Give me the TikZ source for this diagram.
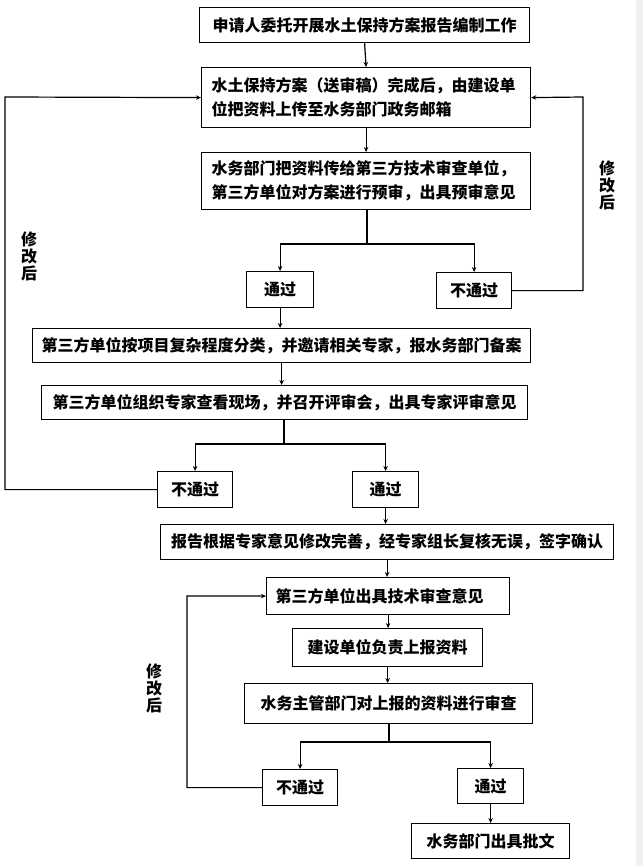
\documentclass[tikz,border=0pt]{standalone}
\usepackage{fontspec}
\newfontfamily\cjk{Noto Sans CJK SC}
\usetikzlibrary{arrows.meta}
\begin{document}
\begin{tikzpicture}[x=1pt,y=1pt,
  box/.style={draw, line width=1.2pt, inner sep=0pt, anchor=north west,
    font=\cjk\bfseries\fontsize{16}{24}\selectfont},
  lbl/.style={align=center, inner sep=0pt, font=\cjk\bfseries\fontsize{16}{17}\selectfont},
  arr/.style={line width=1.2pt, -{Stealth[length=5pt,width=4.5pt]}},
  ln/.style={line width=1.2pt}]
\useasboundingbox (0,0) rectangle (643,-866);
\fill[white] (0,0) rectangle (643,-866);
\fill[gray!12] (636,0) rectangle (643,-866);
% boxes
\node[box, minimum width=330pt, minimum height=35pt] (b1) at (199,-7) {申请人委托开展水土保持方案报告编制工作};
\node[box, text width=309pt, inner xsep=10pt, minimum height=60pt, align=left] (b2) at (201,-67) {水土保持方案（送审稿）完成后，由建设单\\位把资料上传至水务部门政务邮箱};
\node[box, text width=309pt, inner xsep=10pt, minimum height=57pt, align=left] (b3) at (201,-152) {水务部门把资料传给第三方技术审查单位，\\第三方单位对方案进行预审，出具预审意见};
\node[box, minimum width=67pt, minimum height=36pt] (p1) at (246,-271) {通过};
\node[box, minimum width=75pt, minimum height=36pt] (f1) at (436,-272) {不通过};
\node[box, minimum width=498pt, minimum height=34pt] (b4) at (32,-328) {第三方单位按项目复杂程度分类，并邀请相关专家，报水务部门备案};
\node[box, minimum width=486pt, minimum height=34pt] (b5) at (41,-385) {第三方单位组织专家查看现场，并召开评审会，出具专家评审意见};
\node[box, minimum width=75pt, minimum height=36pt] (f2) at (157,-471) {不通过};
\node[box, minimum width=66pt, minimum height=36pt] (p2) at (352,-471) {通过};
\node[box, minimum width=453pt, minimum height=35pt] (b6) at (160,-524) {报告根据专家意见修改完善，经专家组长复核无误，签字确认};
\node[box, text width=225pt, inner xsep=9pt, minimum height=37pt, align=left] (b7) at (266,-577) {第三方单位出具技术审查意见};
\node[box, minimum width=190pt, minimum height=38pt] (b8) at (292,-628) {建设单位负责上报资料};
\node[box, minimum width=288pt, minimum height=40pt] (b9) at (244,-683) {水务主管部门对上报的资料进行审查};
\node[box, minimum width=75pt, minimum height=36pt] (f3) at (262,-769) {不通过};
\node[box, minimum width=66pt, minimum height=35pt] (p3) at (457,-768) {通过};
\node[box, minimum width=158pt, minimum height=35pt] (b10) at (411,-823) {水务部门出具批文};
% labels
\node[lbl] (m1) at (607,-185) {修\\改\\后};
\node[lbl] (m2) at (29,-256) {修\\改\\后};
\node[lbl] (m3) at (154,-688) {修\\改\\后};
% junctions
\coordinate (j1) at (367,-244);
\coordinate (j2) at (284,-444);
\coordinate (j3) at (389,-742);
\coordinate (r1) at (583,-97);
\coordinate (l1) at (5,-97);
\coordinate (l2) at (187,-596);
% connectors
\draw[arr] (b1.south) -- (b2.north);
\draw[arr] (b2.south) -- (b3.north);
\draw[ln] (b3.south -| j1) -- (j1);
\draw[arr] (j1) -| (p1.north);
\draw[arr] (j1) -| (f1.north);
\draw[arr] (f1.east) -| (r1) -- (b2.east);
\draw[arr] (p1.south) -- (p1.south |- b4.north);
\draw[arr] (b4.south) -- (b4.south |- b5.north);
\draw[ln] (b5.south -| j2) -- (j2);
\draw[arr] (j2) -| (f2.north);
\draw[arr] (j2) -| (p2.north);
\draw[arr] (f2.west) -| (l1) -- (b2.west);
\draw[arr] (p2.south) -- (p2.south |- b6.north);
\draw[arr] (b6.south) -- (b6.south |- b7.north);
\draw[arr] (b7.south) -- (b7.south |- b8.north);
\draw[arr] (b8.south) -- (b8.south |- b9.north);
\draw[ln] (b9.south -| j3) -- (j3);
\draw[arr] (j3) -| (f3.north);
\draw[arr] (j3) -| (p3.north);
\draw[arr] (f3.west) -| (l2) -- (b7.west);
\draw[arr] (p3.south) -- (p3.south |- b10.north);
\end{tikzpicture}
\end{document}
